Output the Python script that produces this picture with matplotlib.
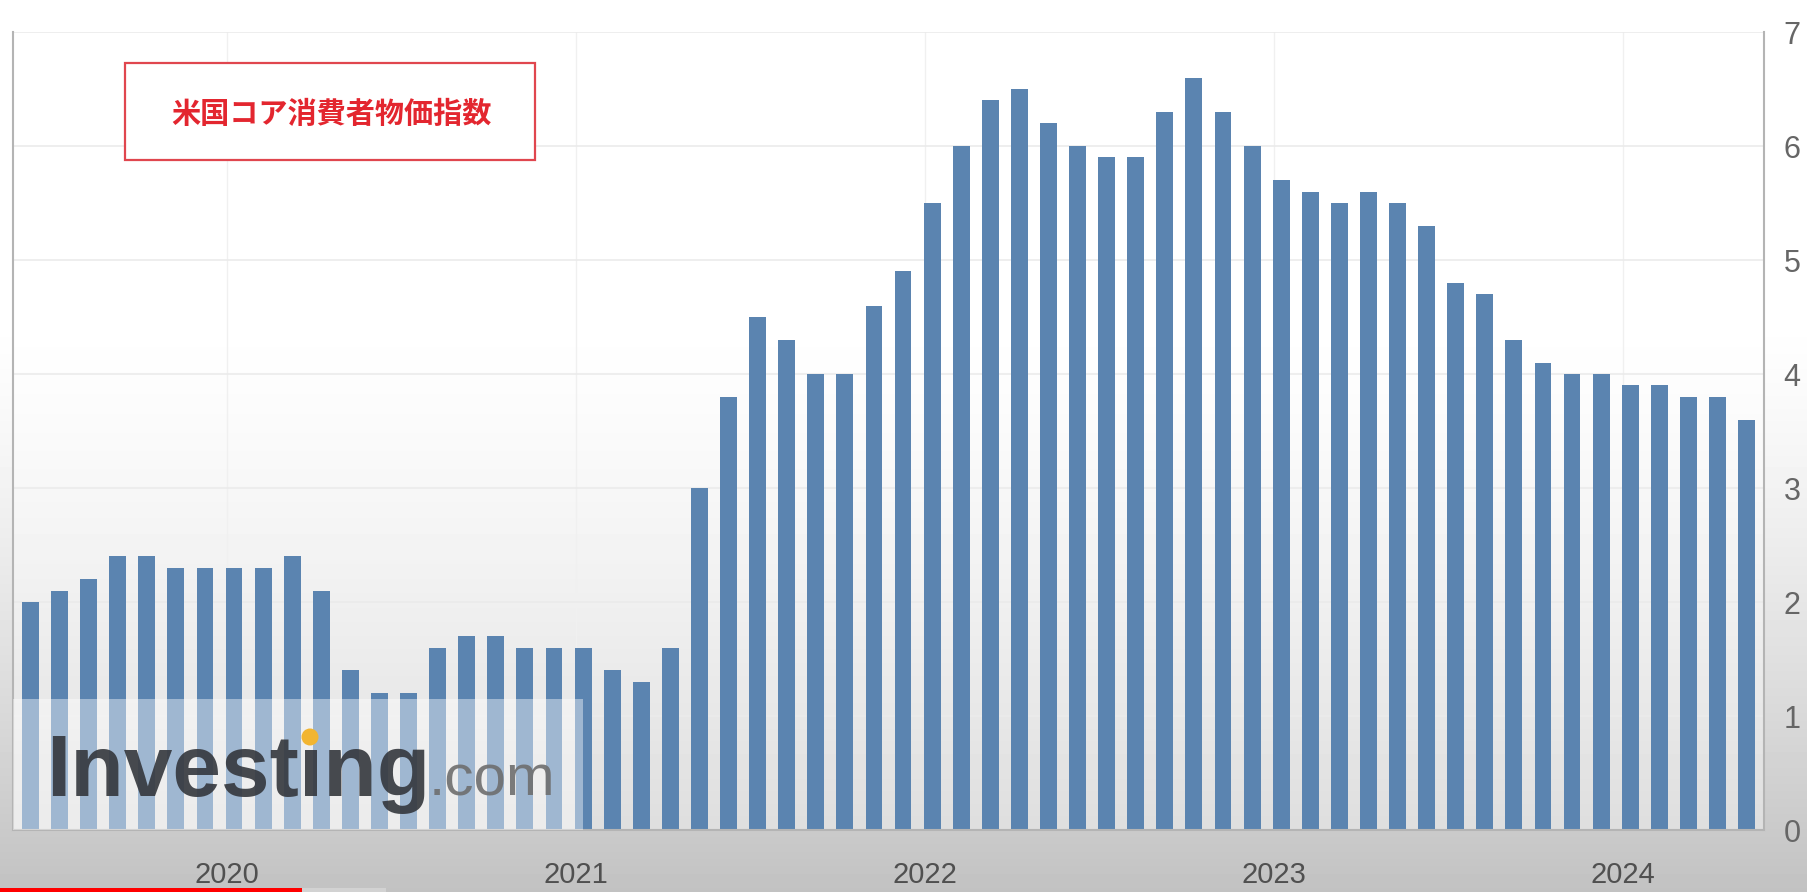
import numpy as np
import pandas as pd
import matplotlib
matplotlib.use("Agg")
import matplotlib.pyplot as plt
from matplotlib.patches import Rectangle, Circle

plt.rcParams['font.family'] = ['Liberation Sans', 'DejaVu Sans']

# US core CPI, YoY %, monthly May 2019 - Apr 2024
months = pd.date_range("2019-05-01", "2024-04-01", freq="MS")
core_cpi = [2.0, 2.1, 2.2, 2.4, 2.4, 2.3, 2.3, 2.3,
            2.3, 2.4, 2.1, 1.4, 1.2, 1.2, 1.6, 1.7, 1.7, 1.6, 1.6, 1.6,
            1.4, 1.3, 1.6, 3.0, 3.8, 4.5, 4.3, 4.0, 4.0, 4.6, 4.9, 5.5,
            6.0, 6.4, 6.5, 6.2, 6.0, 5.9, 5.9, 6.3, 6.6, 6.3, 6.0, 5.7,
            5.6, 5.5, 5.6, 5.5, 5.3, 4.8, 4.7, 4.3, 4.1, 4.0, 4.0, 3.9,
            3.9, 3.8, 3.8, 3.6]
year_labels = ["2020", "2021", "2022", "2023", "2024"]
y_ticks = [0, 1, 2, 3, 4, 5, 6, 7]
title = "米国コア消費者物価指数"

W, H = 1808, 892
fig = plt.figure(figsize=(W / 100, H / 100), dpi=100)

# plot area in pixels (left, top, right, bottom)
L, T, R, B = 13, 32, 1764, 830


def fx(px):
    return px / W


def fy(py):
    return 1 - py / H


# background: video-like gray vignette, lighter inside the chart box
yy = np.linspace(0, 1, H)[:, None]
shade = np.clip((yy - 0.35) / 0.65, 0, 1) ** 1.3
outer = 1 - 0.24 * shade * np.ones((1, W))
inner = 1 - 0.15 * shade * np.ones((1, W))
bg = outer.copy()
bg[T:B, L:R] = inner[T:B, L:R]
bg_ax = fig.add_axes([0, 0, 1, 1], zorder=-10)
bg_ax.imshow(bg, cmap="gray", vmin=0, vmax=1, aspect="auto", interpolation="bilinear")
bg_ax.axis("off")

ax = fig.add_axes([fx(L), fy(B), fx(R) - fx(L), fy(T) - fy(B)])
ax.set_facecolor("none")

x = np.arange(len(months))
ax.bar(x, core_cpi, width=0.58, color="#5b84b0", zorder=2)

ax.set_xlim(-0.6, len(months) - 0.4)
ax.set_ylim(0, 7)

# year labels sit a little before each January bar
jan_pos = [i - 1.25 for i, m in enumerate(months) if m.month == 1]
ax.set_xticks(jan_pos)
ax.set_xticklabels(year_labels)
ax.tick_params(axis="x", length=0, pad=22, labelsize=21, labelcolor="#505050")

ax.yaxis.tick_right()
ax.set_yticks(y_ticks)
ax.tick_params(axis="y", length=0, pad=14, labelsize=22, labelcolor="#666666")

ax.grid(axis="y", color="#ebebeb", lw=1.2, zorder=0)
ax.grid(axis="x", color="#f0f0f0", lw=1, zorder=0)
for side in ["left", "right", "bottom"]:
    ax.spines[side].set_color("#b4b4b4")
    ax.spines[side].set_linewidth(1.5)
ax.spines["top"].set_visible(False)

# watermark wash over the lower-left bars
ax.add_patch(Rectangle((-0.6, 0), 19.6, 1.15, facecolor="white", alpha=0.42,
                       edgecolor="none", zorder=3))
fig.text(fx(46), fy(796), "Investing", fontsize=63, fontweight="bold",
         color="#34373c", alpha=0.9, va="baseline", ha="left", zorder=5)
fig.text(fx(429), fy(796), ".com", fontsize=42, color="#6e6e6e",
         alpha=0.9, va="baseline", ha="left", zorder=5)
fig.patches.append(Circle((310 / 100, (H - 737) / 100), 0.085,
                          transform=fig.dpi_scale_trans,
                          facecolor="#f2b531", edgecolor="none", zorder=6))

# title box
fig.patches.append(Rectangle((fx(125), fy(160)), fx(535) - fx(125), fy(63) - fy(160),
                             transform=fig.transFigure, facecolor="white",
                             edgecolor="#e0464e", lw=1.6, zorder=6))
fig.text(fx(331), fy(114), title, fontsize=21, fontweight="bold", color="#e3262f",
         ha="center", va="center", family=["Noto Sans CJK JP", "DejaVu Sans"], zorder=7)

# player progress bar at the very bottom
fig.patches.append(Rectangle((0, 0), fx(386), 4 / H, transform=fig.transFigure,
                             facecolor="#d2d2d2", edgecolor="none", zorder=8))
fig.patches.append(Rectangle((0, 0), fx(302), 4 / H, transform=fig.transFigure,
                             facecolor="#ff0000", edgecolor="none", zorder=9))

fig.savefig("out.png", dpi=100)
